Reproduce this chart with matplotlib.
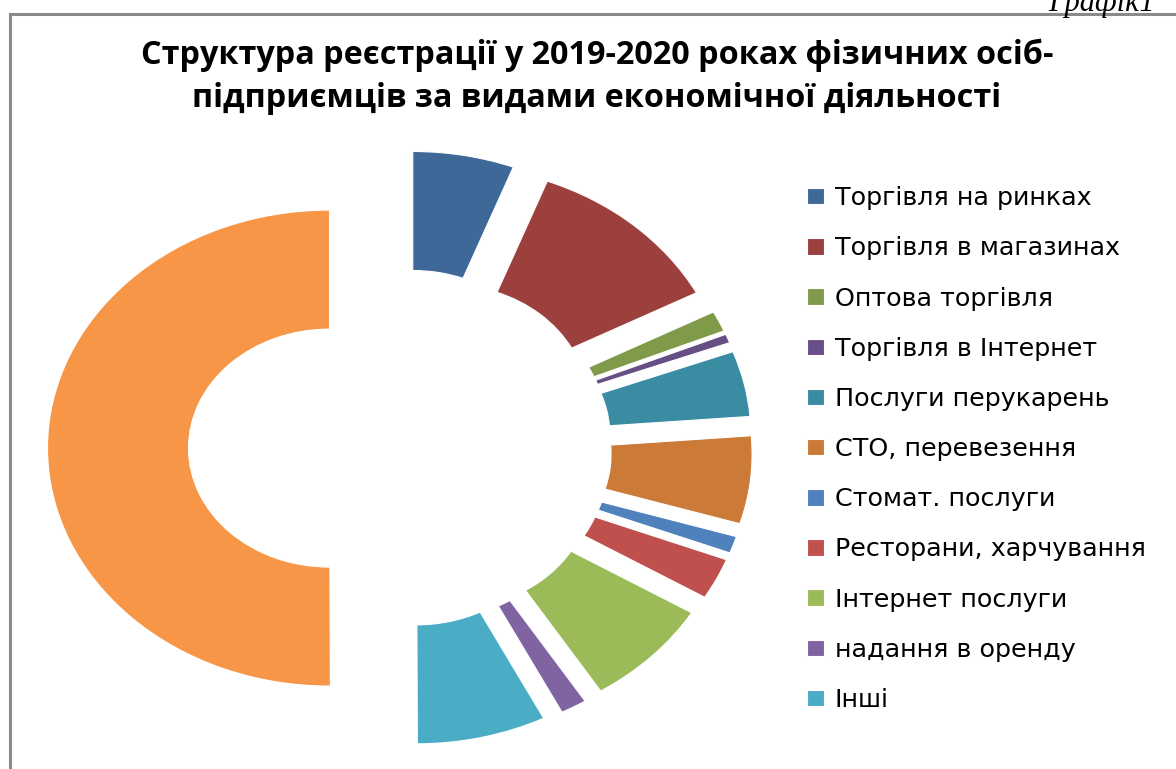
import matplotlib
matplotlib.use("Agg")
import matplotlib.pyplot as plt
from matplotlib.patches import Rectangle

# values (percent of ring, clockwise from 12 o'clock)
labels = ["Торгівля на ринках", "Торгівля в магазинах", "Оптова торгівля",
          "Торгівля в Інтернет", "Послуги перукарень", "СТО, перевезення",
          "Стомат. послуги", "Ресторани, харчування", "Інтернет послуги",
          "надання в оренду", "Інші"]
values = [5.8, 11.5, 1.4, 0.6, 4.45, 5.95, 1.15, 2.8, 7.4, 1.5, 7.4]
rest = 100 - sum(values)   # big unlabelled orange half
colors = ["#3E6898", "#9C403D", "#7F9A48", "#664F86", "#3A8CA2", "#CB7A37",
          "#4F81BD", "#C0504D", "#9BBB59", "#8064A2", "#4BACC6", "#F79646"]

W, H = 1176, 769
fig = plt.figure(figsize=(W / 100, H / 100), dpi=100)
ax = fig.add_axes([0, 0, 1, 1])

cx, cy = 400, 448      # pixel centre of the ring
rx, ry = 282, 238      # pixels per radius unit (chart is stretched sideways)

wedges, _ = ax.pie(values + [rest], colors=colors, startangle=90, counterclock=False,
                   explode=[0.25] * 12, radius=1.0,
                   wedgeprops=dict(width=0.5, edgecolor="white", linewidth=0.8))
ax.set_aspect("auto")
ax.set_xlim(-cx / rx, (W - cx) / rx)
ax.set_ylim(-(H - cy) / ry, cy / ry)
ax.axis("off")

# chart frame
fig.patches.append(Rectangle((10 / W, -0.1), 1.2, 1 - 13.5 / H + 0.1,
                             transform=fig.transFigure, fill=False,
                             edgecolor="#8a8a8a", linewidth=2.2))

fig.text(1155 / W, 1 - 11 / H, "Графік1", ha="right", va="baseline",
         family="Liberation Serif", style="italic", fontsize=22)

fig.text(597 / W, 1 - 77 / H,
         "Структура реєстрації у 2019-2020 роках фізичних осіб-\n"
         "підприємців за видами економічної діяльності",
         ha="center", va="center", family="Open Sans", fontweight="bold",
         fontsize=23.3, linespacing=1.4)

fig.legend(wedges[:11], labels, loc="upper left", bbox_to_anchor=(797 / W, 1 - 176 / H),
           frameon=False, labelspacing=1.03, handlelength=0.68,
           handleheight=0.62, handletextpad=0.4, borderaxespad=0,
           prop=dict(family="DejaVu Sans", size=18.3))

fig.savefig("out.png", dpi=100)
